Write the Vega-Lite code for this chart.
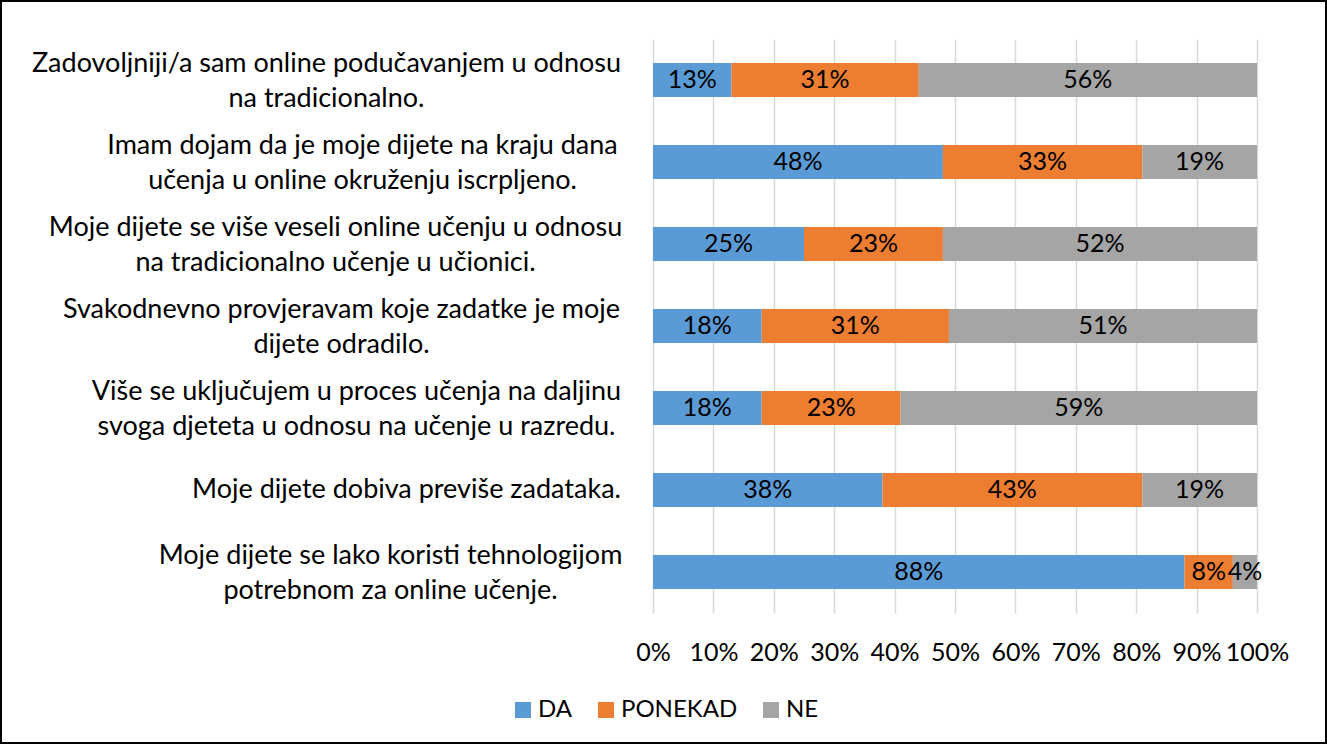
{
  "$schema": "https://vega.github.io/schema/vega-lite/v6.json",
  "width": 604,
  "height": 574,
  "autosize": "none",
  "padding": {"left": 653, "top": 39, "right": 70, "bottom": 131},
  "background": "white",
  "config": {
    "font": "Lato",
    "view": {"stroke": null},
    "legend": {"gradientHorizontalMaxLength": 2000, "gradientVerticalMaxLength": 2000}
  },
  "data": {
    "values": [
      {"q": "Zadovoljniji/a sam online podučavanjem u odnosu\nna tradicionalno.", "odgovor": "DA", "n": 1, "v": 0.13},
      {"q": "Zadovoljniji/a sam online podučavanjem u odnosu\nna tradicionalno.", "odgovor": "PONEKAD", "n": 2, "v": 0.31},
      {"q": "Zadovoljniji/a sam online podučavanjem u odnosu\nna tradicionalno.", "odgovor": "NE", "n": 3, "v": 0.56},
      {"q": "Imam dojam da je moje dijete na kraju dana\nučenja u online okruženju iscrpljeno.", "odgovor": "DA", "n": 1, "v": 0.48},
      {"q": "Imam dojam da je moje dijete na kraju dana\nučenja u online okruženju iscrpljeno.", "odgovor": "PONEKAD", "n": 2, "v": 0.33},
      {"q": "Imam dojam da je moje dijete na kraju dana\nučenja u online okruženju iscrpljeno.", "odgovor": "NE", "n": 3, "v": 0.19},
      {"q": "Moje dijete se više veseli online učenju u odnosu\nna tradicionalno učenje u učionici.", "odgovor": "DA", "n": 1, "v": 0.25},
      {"q": "Moje dijete se više veseli online učenju u odnosu\nna tradicionalno učenje u učionici.", "odgovor": "PONEKAD", "n": 2, "v": 0.23},
      {"q": "Moje dijete se više veseli online učenju u odnosu\nna tradicionalno učenje u učionici.", "odgovor": "NE", "n": 3, "v": 0.52},
      {"q": "Svakodnevno provjeravam koje zadatke je moje\ndijete odradilo.", "odgovor": "DA", "n": 1, "v": 0.18},
      {"q": "Svakodnevno provjeravam koje zadatke je moje\ndijete odradilo.", "odgovor": "PONEKAD", "n": 2, "v": 0.31},
      {"q": "Svakodnevno provjeravam koje zadatke je moje\ndijete odradilo.", "odgovor": "NE", "n": 3, "v": 0.51},
      {"q": "Više se uključujem u proces učenja na daljinu\nsvoga djeteta u odnosu na učenje u razredu.", "odgovor": "DA", "n": 1, "v": 0.18},
      {"q": "Više se uključujem u proces učenja na daljinu\nsvoga djeteta u odnosu na učenje u razredu.", "odgovor": "PONEKAD", "n": 2, "v": 0.23},
      {"q": "Više se uključujem u proces učenja na daljinu\nsvoga djeteta u odnosu na učenje u razredu.", "odgovor": "NE", "n": 3, "v": 0.59},
      {"q": "Moje dijete dobiva previše zadataka.", "odgovor": "DA", "n": 1, "v": 0.38},
      {"q": "Moje dijete dobiva previše zadataka.", "odgovor": "PONEKAD", "n": 2, "v": 0.43},
      {"q": "Moje dijete dobiva previše zadataka.", "odgovor": "NE", "n": 3, "v": 0.19},
      {"q": "Moje dijete se lako koristi tehnologijom\npotrebnom za online učenje.", "odgovor": "DA", "n": 1, "v": 0.88},
      {"q": "Moje dijete se lako koristi tehnologijom\npotrebnom za online učenje.", "odgovor": "PONEKAD", "n": 2, "v": 0.08},
      {"q": "Moje dijete se lako koristi tehnologijom\npotrebnom za online učenje.", "odgovor": "NE", "n": 3, "v": 0.04}
    ]
  },
  "encoding": {
    "y": {
      "field": "q",
      "type": "nominal",
      "sort": null,
      "title": null,
      "scale": {"paddingInner": 0.585, "paddingOuter": 0.2925},
      "axis": {
        "labelExpr": "split(datum.label, '\\n')",
        "labelFontSize": 27,
        "labelLineHeight": 35,
        "labelAlign": "center",
        "labelPadding": {
          "condition": [
            {"test": "indexof(datum.value, 'Zadovoljniji') >= 0", "value": 327},
            {"test": "indexof(datum.value, 'Imam dojam') >= 0", "value": 291},
            {"test": "indexof(datum.value, 'veseli') >= 0", "value": 318},
            {"test": "indexof(datum.value, 'Svakodnevno') >= 0", "value": 312},
            {"test": "indexof(datum.value, 'uključujem') >= 0", "value": 297},
            {"test": "indexof(datum.value, 'dobiva') >= 0", "value": 247}
          ],
          "value": 263
        },
        "labelOffset": {
          "condition": {"test": "indexof(datum.value, '\\n') >= 0", "value": -16},
          "value": 0
        },
        "labelLimit": 0,
        "labelColor": "#000000",
        "ticks": false,
        "domain": false,
        "grid": false
      }
    },
    "x": {
      "field": "v",
      "type": "quantitative",
      "stack": "zero",
      "title": null,
      "scale": {"domain": [0, 1], "nice": false},
      "axis": {
        "values": [0, 0.1, 0.2, 0.3, 0.4, 0.5, 0.6, 0.7, 0.8, 0.9, 1],
        "format": ".0%",
        "labelFontSize": 25,
        "labelColor": "#000000",
        "labelPadding": 27,
        "labelFlush": false,
        "labelOverlap": false,
        "ticks": false,
        "domain": false,
        "grid": true,
        "gridColor": "#D9D9D9",
        "gridWidth": 1.5
      }
    },
    "order": {"field": "n", "type": "quantitative"},
    "color": {
      "field": "odgovor",
      "type": "nominal",
      "sort": ["DA", "PONEKAD", "NE"],
      "scale": {"domain": ["DA", "PONEKAD", "NE"], "range": ["#5B9BD5", "#ED7D31", "#A5A5A5"]},
      "legend": {
        "title": null,
        "orient": "none",
        "legendX": -142,
        "legendY": 659,
        "direction": "horizontal",
        "symbolType": "square",
        "symbolSize": 256,
        "symbolStrokeWidth": 0,
        "labelFontSize": 24,
        "labelColor": "#000000",
        "labelOffset": 3,
        "columnPadding": 21,
        "padding": 0
      }
    }
  },
  "layer": [
    {"mark": {"type": "bar"}},
    {
      "mark": {"type": "text", "fontSize": 25, "baseline": "middle", "align": "center", "strokeWidth": 0},
      "encoding": {
        "x": {"field": "v", "type": "quantitative", "stack": "zero", "bandPosition": 0.5},
        "text": {"field": "v", "type": "quantitative", "format": ".0%"},
        "fill": {"value": "#000000"},
        "stroke": {
          "field": "v",
          "type": "quantitative",
          "scale": {"range": ["rgba(0,0,0,0)", "rgba(0,0,0,0)"]},
          "legend": {
            "title": null,
            "orient": "none",
            "legendX": -652,
            "legendY": -38,
            "direction": "horizontal",
            "gradientLength": 1325,
            "gradientThickness": 742,
            "gradientStrokeColor": "#000000",
            "gradientStrokeWidth": 2,
            "labelExpr": "''",
            "padding": 0
          }
        }
      }
    }
  ]
}
